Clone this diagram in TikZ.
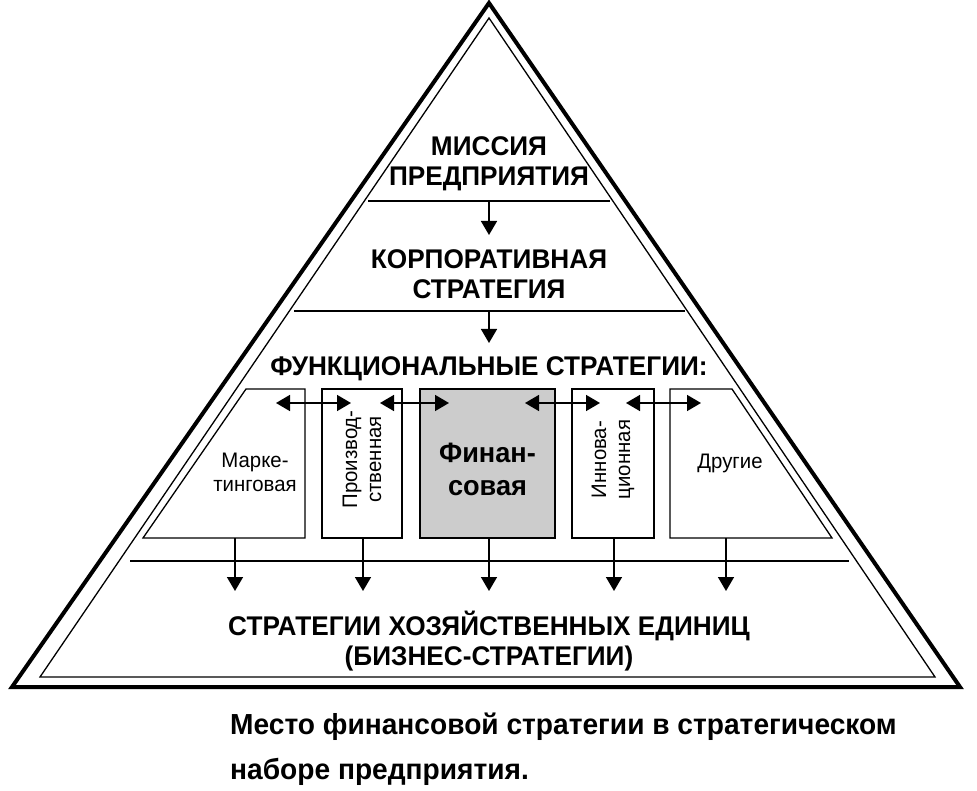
\documentclass[tikz,border=0pt]{standalone}
\usepackage{fontspec}
\setmainfont{Liberation Sans}
\newfontfamily\narrowfont[FakeStretch=0.97]{Liberation Sans}
\usetikzlibrary{arrows.meta, positioning}

\begin{document}
\begin{tikzpicture}[
    x=1pt, y=-1pt,
    head/.style={font=\narrowfont\bfseries\fontsize{27}{30}\selectfont, align=center, inner sep=0pt},
    boxtext/.style={font=\narrowfont\fontsize{21}{24}\selectfont, align=center, inner sep=0pt},
    stratbox/.style={draw, line width=1.3pt, fill=white, inner sep=0pt},
    arrow/.style={-{Triangle[length=14pt,width=16pt]}, line width=1.6pt},
    darrow/.style={{Triangle[length=14pt,width=16pt]}-{Triangle[length=14pt,width=16pt]}, line width=1.6pt},
    layerline/.style={line width=1.3pt}
]
\useasboundingbox (0,0) rectangle (977,791);

% Pyramid outline
\draw[line width=4pt, line join=miter] (489,3) -- (960,687) -- (12,687) -- cycle;
\draw[line width=1.3pt] (489,18) -- (935,677) -- (40,677) -- cycle;

% Layer lines
\draw[layerline] (368,201) -- (610,201);
\draw[layerline] (294,311) -- (685,311);
\draw[layerline] (130,561) -- (849,561);

% Layer titles
\node[head] (mission) at (489,164) {МИССИЯ\\ПРЕДПРИЯТИЯ};
\node[head] (corp) at (489,274) {КОРПОРАТИВНАЯ\\СТРАТЕГИЯ};
\node[head] (func) at (489,369) {ФУНКЦИОНАЛЬНЫЕ СТРАТЕГИИ:};
\node[head] (business) at (489,641) {СТРАТЕГИИ ХОЗЯЙСТВЕННЫХ ЕДИНИЦ\\(БИЗНЕС-СТРАТЕГИИ)};

\coordinate (l1) at (489,201);
\coordinate (l2) at (489,311);
\draw[arrow] (l1) -- ++(0,34);
\draw[arrow] (l2) -- ++(0,32);

% Functional strategies
\draw[stratbox] (246,389) -- (305,389) -- (305,538) -- (143,538) -- cycle;
\draw[stratbox] (670,389) -- (732,389) -- (832,538) -- (670,538) -- cycle;
\node[stratbox, minimum width=80pt, minimum height=149pt] (prod) at (362,463.5) {};
\node[stratbox, fill=gray!40, minimum width=135pt, minimum height=149pt] (fin) at (487.5,463.5) {};
\node[stratbox, minimum width=82pt, minimum height=149pt] (innov) at (613,463.5) {};

\node[boxtext] (mkt) at (255,472) {Марке-\\тинговая};
\node[boxtext, rotate=90] at ([yshift=4pt]prod.center) {Производ-\\ственная};
\node[boxtext, font=\narrowfont\bfseries\fontsize{28}{33}\selectfont] at ([yshift=-6pt]fin.center) {Финан-\\совая};
\node[boxtext, rotate=90] at ([yshift=4pt]innov.center) {Иннова-\\ционная};
\node[boxtext] (other) at (730,463) {Другие};

% Links between strategies
\draw[darrow] (276,403) -- (351,403);
\draw[darrow] (380,403) -- (449,403);
\draw[darrow] (525,403) -- (600,403);
\draw[darrow] (626,403) -- (701,403);

% Down to business units
\foreach \x in {235,363,489,614,726}
    \draw[arrow] (\x,538) -- (\x,591);

% Caption
\node[font=\narrowfont\bfseries\fontsize{29}{45}\selectfont, align=left, anchor=north west, inner sep=0pt] (caption) at (230,713) {Место финансовой стратегии в стратегическом\\наборе предприятия.};
\end{tikzpicture}
\end{document}
